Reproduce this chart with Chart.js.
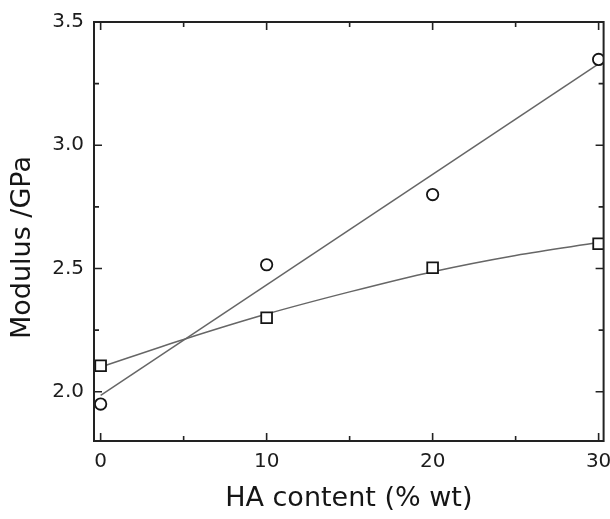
<!DOCTYPE html>
<html>
<head>
<meta charset="utf-8">
<script src="https://cdn.jsdelivr.net/npm/chart.js@4.4.1/dist/chart.umd.min.js"></script>
<style>
html,body{margin:0;padding:0;background:#fff;overflow:hidden;}
#wrap{width:610px;height:519px;position:relative;overflow:hidden;}
#c{display:block;}
</style>
</head>
<body>
<div id="wrap"><canvas id="c" width="613" height="519"></canvas></div>
<script>
// ---- data ----
const haContent = [0, 10, 20, 30];
const modulusCircle = [1.95, 2.515, 2.80, 3.348];
const modulusSquare = [2.105, 2.30, 2.503, 2.60];
const fitCircleX = [0, 30];
const fitCircleY = [1.985, 3.33];
const fitSquareX = [0, 5, 10, 15, 20, 25, 30];
const fitSquareY = [2.10, 2.212, 2.315, 2.405, 2.487, 2.553, 2.605];
const xMajorTicks = [0, 10, 20, 30];
const xMinorTicks = [5, 15, 25];
const yMajorTicks = [2.0, 2.5, 3.0, 3.5];
const yMinorTicks = [2.25, 2.75, 3.25];
const xTitle = 'HA content (% wt)';
const yTitle = 'Modulus /GPa';

const pts = (xs, ys) => xs.map((x, i) => ({x: x, y: ys[i]}));

const frameTicks = {
  id: 'frameTicks',
  afterDatasetsDraw(chart) {
    const {ctx, chartArea: a, scales: {x, y}} = chart;
    ctx.save();
    ctx.strokeStyle = '#222';
    ctx.lineWidth = 1.6;
    const majorLen = 8, minorLen = 5;
    ctx.beginPath();
    xMajorTicks.concat(xMinorTicks).forEach((v, i) => {
      const len = i < xMajorTicks.length ? majorLen : minorLen;
      const px = x.getPixelForValue(v);
      ctx.moveTo(px, a.bottom); ctx.lineTo(px, a.bottom - len);
      ctx.moveTo(px, a.top); ctx.lineTo(px, a.top + len);
    });
    yMajorTicks.concat(yMinorTicks).forEach((v, i) => {
      const len = i < yMajorTicks.length ? majorLen : minorLen;
      const py = y.getPixelForValue(v);
      ctx.moveTo(a.left, py); ctx.lineTo(a.left + len, py);
      ctx.moveTo(a.right, py); ctx.lineTo(a.right - len, py);
    });
    ctx.stroke();
    ctx.lineWidth = 2;
    ctx.strokeRect(a.left, a.top, a.right - a.left, a.bottom - a.top);
    // y axis title
    ctx.fillStyle = '#151515';
    ctx.font = '27px "DejaVu Sans"';
    ctx.textAlign = 'center';
    ctx.textBaseline = 'middle';
    ctx.translate(23, 247.5);
    ctx.rotate(-Math.PI / 2);
    ctx.fillText(yTitle, 0, 0);
    ctx.restore();
  }
};

new Chart(document.getElementById('c'), {
  type: 'scatter',
  data: {
    datasets: [
      {
        label: 'circles',
        data: pts(haContent, modulusCircle),
        pointStyle: 'circle',
        pointRadius: 5.7,
        pointBorderWidth: 1.8,
        pointBorderColor: '#151515',
        pointBackgroundColor: '#ffffff',
        showLine: false,
        order: 0
      },
      {
        label: 'squares',
        data: pts(haContent, modulusSquare),
        pointStyle: 'rect',
        pointRadius: 7.6,
        pointBorderWidth: 1.8,
        pointBorderColor: '#151515',
        pointBackgroundColor: '#ffffff',
        showLine: false,
        order: 0
      },
      {
        label: 'fit circles',
        data: pts(fitCircleX, fitCircleY),
        showLine: true,
        borderColor: '#666',
        borderWidth: 1.5,
        pointRadius: 0,
        fill: false,
        order: 1
      },
      {
        label: 'fit squares',
        data: pts(fitSquareX, fitSquareY),
        showLine: true,
        borderColor: '#666',
        borderWidth: 1.5,
        pointRadius: 0,
        tension: 0.4,
        cubicInterpolationMode: 'monotone',
        fill: false,
        order: 1
      }
    ]
  },
  options: {
    responsive: false,
    animation: false,
    events: [],
    layout: {padding: {left: 0, right: 3, top: 22, bottom: 0}},
    plugins: {legend: {display: false}, tooltip: {enabled: false}},
    scales: {
      x: {
        type: 'linear',
        min: -0.4,
        max: 30.3,
        grid: {display: false, drawTicks: false},
        border: {display: false},
        afterBuildTicks: s => { s.ticks = xMajorTicks.map(v => ({value: v})); },
        afterFit: s => { s.height = 78; s.paddingLeft = 0; s.paddingRight = 0; },
        ticks: {
          font: {family: 'DejaVu Sans', size: 20},
          color: '#1c1c1c',
          padding: 9,
          maxRotation: 0,
          autoSkip: false,
          callback: v => String(v)
        },
        title: {
          display: true,
          text: xTitle,
          font: {family: 'DejaVu Sans', size: 27},
          color: '#151515',
          padding: {top: 0, bottom: 4}
        }
      },
      y: {
        type: 'linear',
        min: 1.8,
        max: 3.5,
        grid: {display: false, drawTicks: false},
        border: {display: false},
        afterBuildTicks: s => { s.ticks = yMajorTicks.map(v => ({value: v})); },
        afterFit: s => { s.width = 94; s.paddingTop = 0; s.paddingBottom = 0; },
        ticks: {
          font: {family: 'DejaVu Sans', size: 20},
          color: '#1c1c1c',
          padding: 10,
          autoSkip: false,
          callback: v => v.toFixed(1)
        }
      }
    }
  },
  plugins: [frameTicks]
});
</script>
</body>
</html>
